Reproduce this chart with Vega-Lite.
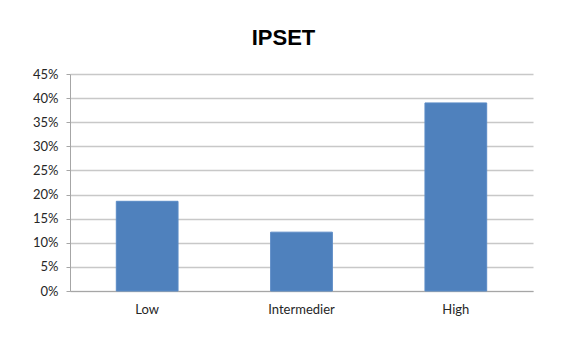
{
  "$schema": "https://vega.github.io/schema/vega-lite/v6.json",
  "width": 463,
  "height": 217,
  "autosize": {"type": "none"},
  "padding": {"left": 70, "top": 74, "right": 33, "bottom": 54},
  "background": "white",
  "title": {
    "text": "IPSET",
    "font": "Liberation Sans",
    "fontSize": 22,
    "fontWeight": "bold",
    "color": "#000000",
    "anchor": "middle",
    "dx": -18,
    "offset": 18
  },
  "data": {
    "values": [
      {"category": "Low", "value": 0.186},
      {"category": "Intermedier", "value": 0.122},
      {"category": "High", "value": 0.39}
    ]
  },
  "mark": {"type": "bar", "color": "#4f81bd", "stroke": "#5b8bc6", "strokeWidth": 1},
  "encoding": {
    "x": {
      "field": "category",
      "type": "nominal",
      "sort": null,
      "title": null,
      "scale": {"paddingInner": 0.6, "paddingOuter": 0.3},
      "axis": {
        "labelAngle": 0,
        "ticks": false,
        "domainColor": "#a6a6a6",
        "domainWidth": 1,
        "labelFont": "Lato",
        "labelFontSize": 13,
        "labelColor": "#262626",
        "labelPadding": 12
      }
    },
    "y": {
      "field": "value",
      "type": "quantitative",
      "title": null,
      "scale": {"domain": [0, 0.45], "nice": false},
      "axis": {
        "values": [0, 0.05, 0.1, 0.15, 0.2, 0.25, 0.3, 0.35, 0.4, 0.45],
        "format": ".0%",
        "tickSize": 4,
        "tickColor": "#a6a6a6",
        "domainColor": "#a6a6a6",
        "gridColor": "#c8c8c8",
        "gridWidth": 1.3,
        "labelFont": "Lato",
        "labelFontSize": 13,
        "labelColor": "#262626",
        "labelPadding": 8
      }
    }
  },
  "config": {
    "view": {"stroke": null}
  }
}
